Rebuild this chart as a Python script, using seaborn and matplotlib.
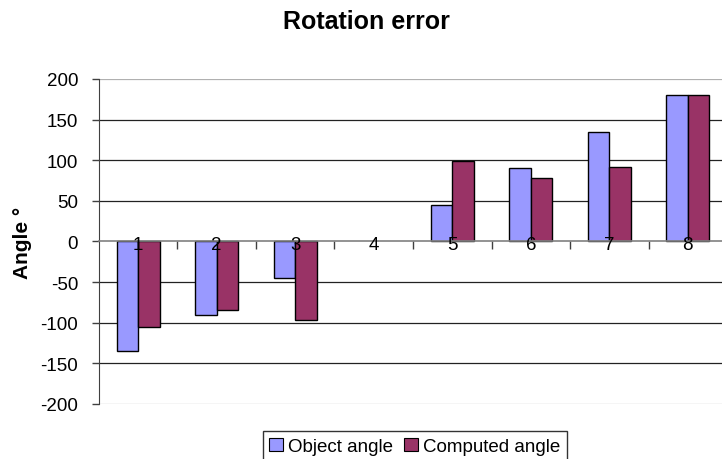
import matplotlib
matplotlib.use("Agg")
import matplotlib.pyplot as plt
import matplotlib.transforms as mtransforms
import seaborn as sns
import pandas as pd
from matplotlib.patches import Patch

categories = ["1", "2", "3", "4", "5", "6", "7", "8"]
object_angle = [-135, -90, -45, 0, 45, 90, 135, 180]
computed_angle = [-105, -84, -97, 0, 99, 78, 92, 180]
series_names = ["Object angle", "Computed angle"]
colors = ["#9999FF", "#993366"]
y_ticks = [-200, -150, -100, -50, 0, 50, 100, 150, 200]

df = pd.DataFrame({
    "cat": categories * 2,
    "val": object_angle + computed_angle,
    "series": [series_names[0]] * len(categories) + [series_names[1]] * len(categories),
})

sns.set_style("white")
plt.rcParams["font.family"] = ["Liberation Sans", "DejaVu Sans"]
plt.rcParams["text.color"] = "black"
plt.rcParams["axes.labelcolor"] = "black"
plt.rcParams["xtick.color"] = "black"
plt.rcParams["ytick.color"] = "black"

fig = plt.figure(figsize=(7.22, 4.6), dpi=100)
ax = fig.add_axes([0.137, 0.1196, 0.870, 0.7065])

sns.barplot(data=df, x="cat", y="val", hue="series", order=categories,
            hue_order=series_names, palette=colors, width=0.55, gap=0,
            saturation=1, edgecolor="black", linewidth=1, ax=ax, legend=False)

for p in ax.patches:
    if abs(p.get_height()) < 1e-9:
        p.set_edgecolor("none")

ax.set_ylim(-200, 200)
ax.set_xlim(-0.5, len(categories) - 0.5)
ax.set_yticks(y_ticks)
ax.set_yticklabels([str(v) for v in y_ticks], fontsize=13.5)
for v in y_ticks:
    if v in (200, -200):
        ax.axhline(v, color="#b0b0b0", lw=0.9, zorder=0)
    elif v != 0:
        ax.axhline(v, color="#222222", lw=0.9, zorder=0)
ax.set_axisbelow(True)

ax.spines["bottom"].set_position(("data", 0))
ax.spines["bottom"].set_color("#808080")
ax.spines["bottom"].set_linewidth(1.2)
ax.spines["top"].set_visible(False)
ax.spines["right"].set_visible(False)
ax.spines["left"].set_color("#404040")
ax.set_xticks([i + 0.5 for i in range(len(categories) - 1)])
ax.set_xticklabels([])
ax.tick_params(axis="x", direction="out", length=6, width=1, color="#404040", bottom=True)
ax.tick_params(axis="y", direction="out", length=5, width=1, color="#404040", left=True, pad=10)
ax.set_xlabel("")

offset = mtransforms.offset_copy(ax.transData, fig=fig, x=0, y=-2, units="points")
for i, c in enumerate(categories):
    ax.text(i, 0, c, ha="center", va="center", fontsize=13.5, transform=offset, zorder=5)

ax.set_ylabel("Angle °", fontsize=15, fontweight="bold", labelpad=6)
fig.suptitle("Rotation error", fontsize=18, fontweight="bold", x=0.507, y=0.952, va="center")

handles = [Patch(facecolor=col, edgecolor="black", linewidth=0.8) for col in colors]
leg = fig.legend(handles, series_names, loc="upper center",
                 bbox_to_anchor=(415 / 722, 1 - 432 / 460), bbox_transform=fig.transFigure,
                 ncol=2, fontsize=13.5, frameon=True, fancybox=False,
                 handlelength=0.7, handleheight=0.7, handletextpad=0.3,
                 columnspacing=0.6, borderpad=0.35, borderaxespad=0)
leg.get_frame().set_edgecolor("black")
leg.get_frame().set_linewidth(1)

fig.savefig("out.png", dpi=100)
